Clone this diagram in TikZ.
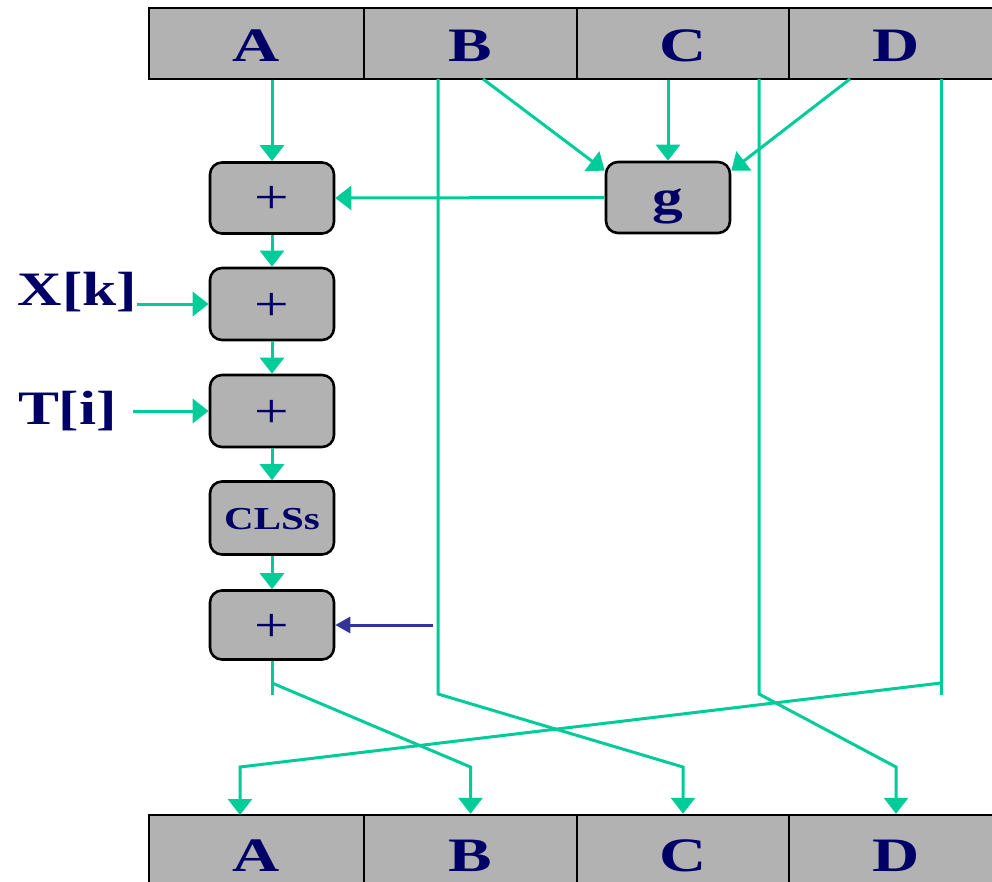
\documentclass[tikz,border=0pt]{standalone}
\usepackage{fontspec}
\usepackage{graphicx}
\setmainfont{Liberation Serif}
\usetikzlibrary{arrows.meta}
\definecolor{grn}{RGB}{0,204,153}
\definecolor{navy}{RGB}{0,0,102}
\definecolor{blu}{RGB}{51,51,153}
\definecolor{gry}{RGB}{178,178,178}
\newcommand\wide[1]{\scalebox{1.28}[1]{#1}}
\newcommand\wider[1]{\scalebox{1.36}[1]{#1}}
\begin{document}
\begin{tikzpicture}[x=1pt,y=-1pt,
  cell/.style={draw=black,line width=2.4pt,fill=gry,minimum height=71pt,inner sep=0pt,
    text=navy,text height=40pt,text depth=3pt,font=\fontsize{48}{48}\selectfont\bfseries},
  opbox/.style={draw=black,line width=2.6pt,fill=gry,rounded corners=12pt,minimum width=124pt,
    minimum height=71pt,inner sep=0pt,text=navy,text height=36pt,text depth=4pt,
    font=\fontsize{48}{48}\selectfont},
  lbl/.style={text=navy,inner sep=0pt,font=\fontsize{48}{48}\selectfont\bfseries},
  gline/.style={draw=grn,line width=3pt},
  garr/.style={gline,-{Triangle[length=16pt,width=24pt]}},
  barr/.style={draw=blu,line width=3pt,-{Triangle[length=15pt,width=16pt]}}]
\clip (0,0) rectangle (992,882);
% top register
\node[cell,minimum width=215pt] (tA) at (256.5,43.5) {\wider{A}};
\node[cell,minimum width=213pt] (tB) at (470.5,43.5) {\wider{B}};
\node[cell,minimum width=212pt] (tC) at (683,43.5) {\wider{C}};
\node[cell,minimum width=214pt] (tD) at (896,43.5) {\wider{D}};
% bottom register
\node[cell,minimum width=215pt,minimum height=76pt] (bA) at (256.5,853) {\wider{A}};
\node[cell,minimum width=213pt,minimum height=76pt] (bB) at (470.5,853) {\wider{B}};
\node[cell,minimum width=212pt,minimum height=76pt] (bC) at (683,853) {\wider{C}};
\node[cell,minimum width=214pt,minimum height=76pt] (bD) at (896,853) {\wider{D}};
% operation boxes
\node[opbox] (p1) at (272,198) {\wide{+}};
\node[opbox,minimum height=72pt] (p2) at (272,304) {\wide{+}};
\node[opbox,minimum height=72pt] (p3) at (272,411) {\wide{+}};
\node[opbox,minimum height=73pt,text height=26pt,text depth=4pt,
  font=\fontsize{32}{32}\selectfont\bfseries] (cls) at (272,518) {\wide{CLSs}};
\node[opbox,minimum height=69pt] (p4) at (272,625) {\wide{+}};
\node[opbox,font=\fontsize{48}{48}\selectfont\bfseries] (g) at (668,197.5) {\wide{g}};
% input labels
\node[lbl] (xk) at (77.5,292.5) {\wide{X[k]}};
\node[lbl] (ti) at (67.5,411) {\wide{T[i]}};
% coordinates
\coordinate (sB) at (483,79);
\coordinate (sD) at (850,79);
\coordinate (vB1) at (438,79);
\coordinate (vB2) at (438,694);
\coordinate (kC) at (683,767);
\coordinate (vC1) at (759,79);
\coordinate (vC2) at (759,694);
\coordinate (kD) at (896,767);
\coordinate (vD1) at (941,79);
\coordinate (vD2) at (941,695);
\coordinate (dD) at (941,683);
\coordinate (kA) at (240,767);
\coordinate (eA) at (240,815);
\coordinate (o2) at (272,695);
\coordinate (dA) at (272,683);
\coordinate (kB) at (470.5,767);
\coordinate (bl) at (433,625);
% chain A
\draw[garr] (tA.south -| p1.north) -- (p1.north);
\draw[garr] (p1.south) -- (p2.north);
\draw[garr] (p2.south) -- (p3.north);
\draw[garr] (p3.south) -- (cls.north);
\draw[garr] (cls.south) -- (p4.north);
\draw[garr] (xk.east |- p2.west) -- (p2.west);
\draw[garr] ([xshift=16pt]ti.east |- p3.west) -- (p3.west);
% g function
\draw[garr] (sB) -- ([yshift=-10pt]g.north west);
\draw[garr] (tC.south -| g.north) -- (g.north);
\draw[garr] (sD) -- ([yshift=-10pt]g.north east);
\draw[garr] (g.west) -- (p1.east);
% blue input
\draw[barr] (bl) -- (p4.east);
% permutation
\draw[garr] (vB1) -- (vB2) -- (kC) -- (bC.north);
\draw[garr] (vC1) -- (vC2) -- (kD) -- (bD.north);
\draw[gline] (vD1) -- (vD2);
\draw[garr] (dD) -- (kA) -- (eA);
\draw[gline] (p4.south) -- (o2);
\draw[garr] (dA) -- (kB) -- (bB.north);
\end{tikzpicture}
\end{document}
